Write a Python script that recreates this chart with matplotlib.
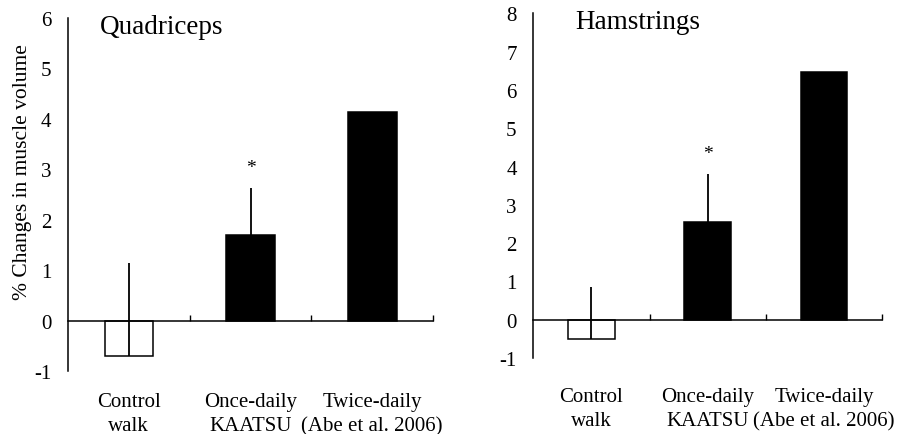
import matplotlib
matplotlib.use("Agg")
import matplotlib.pyplot as plt
import numpy as np

plt.rcParams.update({
    "font.family": ["Liberation Serif", "DejaVu Serif"],
    "font.size": 15,
    "axes.linewidth": 1.1,
    "axes.unicode_minus": False,
})

# ── data ──────────────────────────────────────────────────────────────
categories = ["Control\nwalk", "Once-daily\nKAATSU", "Twice-daily\n(Abe et al. 2006)"]

quad_mean = [-0.7, 1.7, 4.14]
quad_sd = [1.85, 0.92, 0.0]
quad_sig = [False, True, False]

ham_mean = [-0.5, 2.56, 6.46]
ham_sd = [1.35, 1.24, 0.0]
ham_sig = [False, True, False]

bar_colors = ["white", "black", "black"]


def draw_panel(ax, mean, sd, sig, title, ymax, label_pad):
    x = np.arange(len(categories))
    mean = np.asarray(mean)
    sd = np.asarray(sd)

    ax.bar(x, mean, width=0.4, color=bar_colors, edgecolor="black",
           linewidth=1.1, zorder=2)
    ax.errorbar(x, mean, yerr=[np.zeros_like(sd), sd], fmt="none",
                ecolor="black", elinewidth=1.3, capsize=0, zorder=3)

    for xi, m, s, flag in zip(x, mean, sd, sig):
        if flag:
            ax.annotate("*", (xi, m + s), xytext=(0, 15), textcoords="offset points",
                        ha="center", va="center", fontsize=14)

    ax.set_xlim(-0.5, 2.5)
    ax.set_ylim(-1, ymax)
    ax.set_yticks(range(-1, ymax + 1))
    ax.tick_params(axis="y", length=0, pad=12, labelsize=15)

    # zero line with small boundary ticks
    for side in ("top", "right"):
        ax.spines[side].set_visible(False)
    ax.spines["bottom"].set_position(("data", 0))
    ax.set_xticks([0.5, 1.5, 2.5])
    ax.tick_params(axis="x", direction="in", length=4, width=1.0, labelbottom=False)

    # category labels below the plot
    sec = ax.secondary_xaxis(0.0)
    sec.set_xticks(x)
    sec.set_xticklabels(categories, linespacing=1.35)
    sec.spines["bottom"].set_visible(False)
    sec.tick_params(length=0, pad=label_pad, labelsize=15)

    ax.text(0.0, 1.0, title, transform=ax.transAxes, fontsize=19.5, va="center")
    return ax


fig = plt.figure(figsize=(9.02, 4.35), dpi=100)

ax1 = fig.add_axes([0.0754, 0.1448, 0.4047, 0.8115])
draw_panel(ax1, quad_mean, quad_sd, quad_sig, "Quadriceps", 6, 15)
ax1.texts[-1].set_position((0.088, 0.976))
ax1.set_ylabel("% Changes in muscle volume", fontsize=15.5)
ax1.yaxis.set_label_coords(-0.10, 0.567)

ax2 = fig.add_axes([0.5913, 0.1747, 0.3866, 0.7924])
draw_panel(ax2, ham_mean, ham_sd, ham_sig, "Hamstrings", 8, 21)
ax2.texts[-1].set_position((0.12, 0.975))

fig.savefig("out.png", dpi=100)
